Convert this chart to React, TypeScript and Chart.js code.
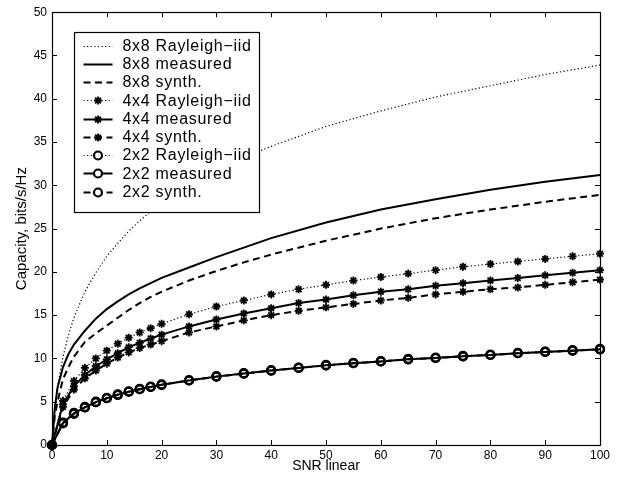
import React, { useEffect, useRef } from "react";
import { Chart, registerables } from "chart.js";
import { drawPoint } from "chart.js/helpers";
Chart.register(...registerables);

const FONT = "'Liberation Sans', Arial, Helvetica, sans-serif";

// SNR grids
const SNR_FINE = [0, 0.5, 1, 2, 3, 4, 6, 8, 10, 12, 14, 16, 18, 20, 25, 30, 35, 40, 50, 60, 70, 80, 90, 100];
const SNR_MARK = [0, 2, 4, 6, 8, 10, 12, 14, 16, 18, 20, 25, 30, 35, 40, 45, 50, 55, 60, 65, 70, 75, 80, 85, 90, 95, 100];

// 8x8 (on SNR_FINE)
const R8_RAYLEIGH = [0, 4.1, 6.7, 10.2, 12.7, 14.7, 17.7, 19.9, 21.8, 23.3, 24.7, 25.9, 27.0, 27.9, 30.0, 31.7, 33.2, 34.5, 36.8, 38.6, 40.2, 41.5, 42.8, 43.9];
const R8_MEASURED = [0, 4.2, 6.6, 9.0, 10.5, 11.6, 13.2, 14.6, 15.7, 16.6, 17.4, 18.1, 18.7, 19.3, 20.5, 21.7, 22.8, 23.9, 25.7, 27.2, 28.4, 29.5, 30.4, 31.2];
const R8_SYNTH = [0, 3.3, 5.0, 7.6, 9.0, 10.2, 11.9, 12.9, 13.8, 14.7, 15.6, 16.4, 17.1, 17.7, 19.0, 20.1, 21.1, 22.0, 23.6, 25.0, 26.2, 27.2, 28.1, 28.9];

// 4x4 (on SNR_MARK)
const R4_RAYLEIGH = [0, 5.1, 7.4, 8.9, 10.0, 10.9, 11.7, 12.4, 13.0, 13.5, 14.0, 15.1, 16.0, 16.7, 17.4, 18.0, 18.5, 19.0, 19.4, 19.8, 20.2, 20.6, 20.9, 21.2, 21.5, 21.8, 22.1];
const R4_MEASURED = [0, 4.7, 6.8, 8.1, 9.1, 9.9, 10.6, 11.3, 11.8, 12.3, 12.75, 13.7, 14.5, 15.2, 15.8, 16.4, 16.8, 17.3, 17.7, 18.0, 18.4, 18.7, 19.0, 19.3, 19.6, 19.9, 20.2];
const R4_SYNTH = [0, 4.4, 6.4, 7.7, 8.6, 9.4, 10.1, 10.7, 11.2, 11.6, 12.0, 13.0, 13.7, 14.4, 15.0, 15.5, 15.9, 16.3, 16.7, 17.0, 17.4, 17.7, 18.0, 18.2, 18.5, 18.8, 19.1];

// 2x2 (on SNR_MARK)
const R2_RAYLEIGH = [0, 2.6, 3.7, 4.4, 5.0, 5.45, 5.85, 6.2, 6.5, 6.75, 7.0, 7.5, 7.95, 8.3, 8.65, 8.95, 9.25, 9.5, 9.7, 9.95, 10.1, 10.3, 10.45, 10.65, 10.8, 10.95, 11.1];
const R2_MEASURED = [0, 2.55, 3.65, 4.35, 4.95, 5.4, 5.8, 6.15, 6.45, 6.7, 6.95, 7.45, 7.9, 8.25, 8.6, 8.9, 9.2, 9.45, 9.65, 9.9, 10.05, 10.25, 10.4, 10.6, 10.75, 10.9, 11.05];
const R2_SYNTH = [0, 2.5, 3.6, 4.35, 4.95, 5.4, 5.8, 6.15, 6.45, 6.7, 6.95, 7.45, 7.9, 8.25, 8.6, 8.9, 9.2, 9.45, 9.65, 9.9, 10.05, 10.25, 10.4, 10.6, 10.75, 10.9, 11.05];

const LABELS = [
  "8x8 Rayleigh\u2212iid", "8x8 measured", "8x8 synth.",
  "4x4 Rayleigh\u2212iid", "4x4 measured", "4x4 synth.",
  "2x2 Rayleigh\u2212iid", "2x2 measured", "2x2 synth.",
];

const X_TICKS = [0, 10, 20, 30, 40, 50, 60, 70, 80, 90, 100];
const Y_TICKS = [0, 5, 10, 15, 20, 25, 30, 35, 40, 45, 50];

const DOT = [1.2, 2.4];
const DASH = [7, 4.5];

function pts(xs: number[], ys: number[]) {
  return xs.map((x, i) => ({ x, y: ys[i] }));
}

function ds(label: string, data: any[], dash: number[], width: number, pointStyle: any, radius: number, pbw: number) {
  return {
    label,
    data,
    borderColor: "#000",
    backgroundColor: "rgba(0,0,0,0)",
    borderWidth: width,
    borderDash: dash,
    pointStyle: pointStyle || "circle",
    pointRadius: pointStyle ? radius : 0,
    pointBorderWidth: pbw,
    pointBorderColor: "#000",
    pointBackgroundColor: "rgba(0,0,0,0)",
    tension: 0,
    clip: false,
  };
}

const boxPlugin = {
  id: "boxTicks",
  afterDraw(chart: any) {
    const { ctx, chartArea: a, scales } = chart;
    ctx.save();
    ctx.strokeStyle = "#000";
    ctx.lineWidth = 1.2;
    ctx.setLineDash([]);
    ctx.strokeRect(Math.round(a.left) + 0.5, Math.round(a.top) + 0.5, Math.round(a.right - a.left), Math.round(a.bottom - a.top));
    ctx.lineWidth = 1;
    const tl = 5;
    ctx.beginPath();
    X_TICKS.forEach((v) => {
      const x = Math.round(scales.x.getPixelForValue(v)) + 0.5;
      ctx.moveTo(x, a.bottom); ctx.lineTo(x, a.bottom - tl);
      ctx.moveTo(x, a.top); ctx.lineTo(x, a.top + tl);
    });
    Y_TICKS.forEach((v) => {
      const y = Math.round(scales.y.getPixelForValue(v)) + 0.5;
      ctx.moveTo(a.left, y); ctx.lineTo(a.left + tl, y);
      ctx.moveTo(a.right, y); ctx.lineTo(a.right - tl, y);
    });
    ctx.stroke();

    // legend
    const lx = Math.round(a.left + 22) + 0.5;
    const ly = Math.round(a.top + 20) + 0.5;
    const lw = 185;
    const rowH = 18.25;
    const lh = 180;
    ctx.fillStyle = "#fff";
    ctx.fillRect(lx, ly, lw, lh);
    ctx.lineWidth = 1.2;
    ctx.strokeRect(lx, ly, lw, lh);
    chart.data.datasets.forEach((d: any, i: number) => {
      const cy = ly + 13 + i * rowH;
      const x0 = lx + 9, x1 = lx + 38;
      ctx.save();
      ctx.strokeStyle = "#000";
      ctx.lineWidth = d.borderWidth;
      ctx.setLineDash(d.borderDash);
      ctx.beginPath();
      ctx.moveTo(x0, Math.round(cy) + 0.5);
      ctx.lineTo(x1, Math.round(cy) + 0.5);
      ctx.stroke();
      ctx.setLineDash([]);
      if (d.pointRadius > 0) {
        ctx.fillStyle = "#fff";
        ctx.strokeStyle = "#000";
        ctx.lineWidth = d.pointBorderWidth;
        drawPoint(ctx, { pointStyle: d.pointStyle, radius: d.pointRadius, borderWidth: d.pointBorderWidth, rotation: 0 }, (x0 + x1) / 2, Math.round(cy) + 0.5);
      }
      ctx.restore();
      ctx.save();
      ctx.fillStyle = "#000";
      ctx.font = `16px ${FONT}`;
      try { (ctx as any).letterSpacing = "0.7px"; } catch (e) {}
      ctx.textBaseline = "middle";
      ctx.textAlign = "left";
      ctx.fillText(d.label, lx + 48, cy + 1);
      ctx.restore();
    });
    ctx.restore();
  },
};

export default function App() {
  const ref = useRef<HTMLCanvasElement | null>(null);
  useEffect(() => {
    if (!ref.current) return;
    const datasets = [
      ds(LABELS[0], pts(SNR_FINE, R8_RAYLEIGH), DOT, 1.2, null, 0, 0),
      ds(LABELS[1], pts(SNR_FINE, R8_MEASURED), [], 2, null, 0, 0),
      ds(LABELS[2], pts(SNR_FINE, R8_SYNTH), DASH, 2, null, 0, 0),
      ds(LABELS[3], pts(SNR_MARK, R4_RAYLEIGH), DOT, 1.2, "star", 4, 1.8),
      ds(LABELS[4], pts(SNR_MARK, R4_MEASURED), [], 2, "star", 4, 1.8),
      ds(LABELS[5], pts(SNR_MARK, R4_SYNTH), DASH, 2, "star", 4, 1.8),
      ds(LABELS[6], pts(SNR_MARK, R2_RAYLEIGH), DOT, 1.2, "circle", 4, 2.2),
      ds(LABELS[7], pts(SNR_MARK, R2_MEASURED), [], 2, "circle", 4, 2.2),
      ds(LABELS[8], pts(SNR_MARK, R2_SYNTH), DASH, 2, "circle", 4, 2.2),
    ];
    const chart = new Chart(ref.current, {
      type: "line",
      data: { datasets },
      options: {
        animation: false,
        responsive: false,
        devicePixelRatio: 1,
        layout: { padding: { left: 10, right: 17, top: 12, bottom: 0 } },
        plugins: { legend: { display: false }, tooltip: { enabled: false } },
        scales: {
          x: {
            type: "linear",
            min: 0,
            max: 100,
            afterBuildTicks: (s: any) => { s.ticks = X_TICKS.map((v) => ({ value: v })); },
            ticks: { color: "#000", font: { size: 12, family: FONT }, padding: 3, maxRotation: 0, autoSkip: false },
            grid: { display: false, drawTicks: false },
            border: { display: false },
            title: { display: true, text: "SNR linear", color: "#000", font: { size: 14, family: FONT }, padding: { top: 0, bottom: 4 } },
            afterFit: (s: any) => { s.height = 34; },
          },
          y: {
            type: "linear",
            min: 0,
            max: 50,
            afterBuildTicks: (s: any) => { s.ticks = Y_TICKS.map((v) => ({ value: v })); },
            ticks: { color: "#000", font: { size: 12, family: FONT }, padding: 5, autoSkip: false },
            grid: { display: false, drawTicks: false },
            border: { display: false },
            title: { display: true, text: "Capacity, bits/s/Hz", color: "#000", font: { size: 15, family: FONT }, padding: { top: 3, bottom: 0 } },
            afterFit: (s: any) => { s.width = 42; },
          },
        },
      } as any,
      plugins: [boxPlugin],
    });
    return () => chart.destroy();
  }, []);
  return (
    <div style={{ position: "fixed", left: 0, top: 0, width: 617, height: 479, background: "#fff" }}>
      <canvas ref={ref} width={617} height={479} style={{ display: "block", width: 617, height: 479 }} />
    </div>
  );
}
